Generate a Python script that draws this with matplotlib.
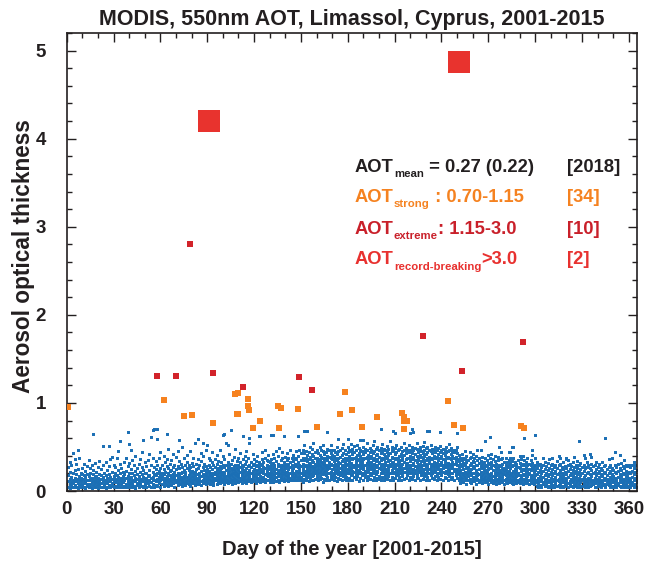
import matplotlib
matplotlib.use("Agg")
import matplotlib.pyplot as plt
from matplotlib.ticker import MultipleLocator

plt.rcParams['font.family'] = ['Liberation Sans', 'DejaVu Sans']
plt.rcParams['font.weight'] = 'bold'

# ---- data -----------------------------------------------------------------
# Background AOT retrievals, one string per day of year (day 1..365), values in hundredths
blue_aot_by_day = [
    "05 11 18 27", "08 14 03 22 33", "10 06 16 29", "43 04 12 20 09", "07 15 24 11 36",
    "13 05 19 31", "46 09 03 14 25", "06 17 12 38", "11 04 21 08 15", "14 07 26 19",
    "09 18 05 31 12", "16 03 10 23", "06 13 28 08 19", "12 04 17 35", "08 21 14 05 26",
    "15 10 03 30", "65 07 12 19 24", "04 09 16 32 11", "13 06 22 17", "10 03 15 27 08",
    "07 19 12 34", "14 05 09 25 18", "51 04 11 16 29", "08 13 06 21", "12 03 18 33 10",
    "05 15 24 09", "51 11 07 19 28", "16 04 13 36", "39 09 14 06 22", "11 17 05 30",
    "06 14 21 10 27", "13 04 18 37", "09 16 07 24 45", "57 05 12 20 31", "15 08 26 11",
    "04 17 10 22 14", "12 06 19 33", "08 15 38 05 23", "67 11 04 17 28", "53 07 14 21 09 32",
    "47 10 05 16 25", "13 08 20 35 04", "06 18 11 29", "15 03 12 23 40", "09 19 07 26 14",
    "12 05 17 31", "08 14 22 10 36", "44 06 13 19 27", "58 11 04 16 24", "07 15 21 09 33",
    "14 05 20 28 11", "09 17 12 35", "06 13 24 18 42", "61 10 04 15 30", "69 08 16 22 12 37",
    "70 05 13 19 27", "11 18 07 25 34", "70 59 14 06 21 29", "09 16 11 23 38", "12 05 19 26 15 44",
    "08 14 21 30 17", "11 06 19 25 40", "15 09 22 13 33", "65 07 17 28 12 36", "10 20 14 26 48 06",
    "13 08 18 31 23", "16 11 24 07 35", "09 19 27 14 42", "12 05 17 22 30 15", "18 10 25 13 39",
    "07 15 21 28 11 45", "58 12 18 09 26 34", "14 08 20 31 16", "10 22 13 27 50 06", "17 09 24 15 37",
    "11 19 07 29 22", "13 26 16 09 33 41", "08 18 12 24 30", "15 21 10 27 45 06", "12 17 23 09 32",
    "09 16 20 13 28 38", "14 07 22 18 55", "11 25 15 08 31", "59 59 10 19 26 14 36", "16 08 21 12 29",
    "07 23 17 11 34 43", "54 13 19 09 27 40", "10 15 24 18 31", "18 08 22 13 28 47", "12 20 16 10 25 52",
    "09 17 23 14 30 38", "13 21 08 27 19 35", "16 11 25 18 33 44", "10 20 14 29 07", "15 22 12 27 36 19",
    "08 18 24 13 31 41", "12 26 16 21 10 34", "17 09 23 28 14 47", "11 19 26 15 33 22", "64 14 22 10 29 18 40",
    "65 12 20 27 16 08 36", "54 17 10 24 30 14", "13 21 09 26 19 52 33", "16 11 23 29 18 42", "69 10 19 26 14 31",
    "12 24 17 08 35 21", "15 20 28 11 25 39", "09 18 23 30 14 48", "13 26 11 21 34 17", "16 10 24 19 29 37",
    "11 22 27 15 33 43", "14 18 09 25 30 21", "62 12 20 28 16 36 24", "17 10 23 31 14 40", "12 19 26 09 34 45",
    "15 22 11 28 18 38", "60 54 13 24 17 30 21", "10 20 27 14 33", "16 23 12 29 19 42", "13 18 25 11 31 36",
    "09 21 28 16 34 24", "15 12 24 30 19 40", "63 11 20 27 14 33", "62 17 10 25 31 22", "13 22 29 15 36 44",
    "16 24 11 20 33 27", "10 19 26 14 38 47", "18 13 23 30 21 35", "12 25 17 28 34 41", "15 21 10 27 33 19",
    "64 13 22 29 17 36 25", "64 10 19 26 15 32 42", "14 23 30 18 27 38", "11 20 25 16 34 45", "17 12 28 22 31 40",
    "13 24 19 30 10 49", "16 21 27 14 35 25", "12 18 29 23 37 44", "62 15 25 11 20 33 28", "18 13 26 22 31 39",
    "14 22 28 17 35 43", "11 19 25 31 16 38", "15 27 20 12 33 46", "18 24 13 29 37 22", "12 21 26 16 34 41",
    "16 28 19 13 31 38", "13 23 30 17 36 45", "62 15 21 27 12 33 40", "17 25 14 30 22 46", "12 20 28 16 35 43",
    "10 18 25 31 22 38 47", "68 14 21 28 35 19 43 52", "68 12 23 30 17 37 45", "68 16 20 27 34 41 24", "11 22 29 36 18 44 31",
    "15 24 19 32 39 27 50", "13 21 28 35 17 42 48", "18 26 12 33 40 23 55", "14 20 27 31 37 44 24", "16 23 30 19 38 46 34",
    "12 25 32 20 36 43 28", "17 22 29 35 14 41 50", "15 27 21 33 39 46 24", "10 19 26 31 38 45 52", "14 23 29 36 20 42 33",
    "18 24 30 13 37 44 27", "67 16 21 28 35 40 48 25", "12 20 26 33 39 46 30", "15 22 31 18 37 43 52", "17 25 29 36 14 41 47",
    "13 21 27 34 19 40 46", "16 24 31 38 22 44 29", "11 20 28 35 42 50 25", "59 15 23 30 37 19 45 33", "18 26 32 14 39 47 22",
    "12 21 28 34 41 25 49", "17 23 30 36 20 43 53", "14 27 33 19 38 46 24", "16 22 29 35 42 12 31", "59 13 25 31 20 37 44 50",
    "15 21 28 34 40 47 24", "18 26 32 13 38 45 53", "12 23 29 36 19 42 48", "16 22 30 37 44 27 51", "14 25 31 18 39 46 34",
    "17 20 28 35 41 52 24", "11 24 30 36 43 21 49", "58 15 22 29 33 40 47 26", "18 27 34 20 38 45 31", "58 13 21 28 36 42 50 25",
    "16 23 30 37 19 44 48", "12 26 32 39 22 46 55", "17 24 29 35 41 15 33", "14 21 27 38 44 49 31", "18 25 33 20 40 47 28",
    "13 22 30 36 43 26 52", "57 16 24 31 38 45 20 35", "12 27 34 19 41 48 29", "15 23 29 36 42 22 50", "17 26 32 39 14 46 33",
    "70 13 21 28 35 43 49 25", "16 24 31 38 20 45 53", "12 22 29 36 42 26 48", "18 25 33 15 40 47 30", "14 23 30 37 44 21 51",
    "17 27 34 19 41 48 24", "13 21 28 35 43 57 31", "16 24 32 39 22 46 50", "68 12 26 33 20 38 45 29", "66 15 22 29 36 42 49 27",
    "18 25 31 38 44 21 52", "13 23 30 37 19 46 34", "16 27 33 40 24 48 29", "12 21 28 35 42 50 25", "17 24 31 39 45 20 36",
    "14 26 33 22 41 47 55", "15 22 29 36 43 49 27", "18 25 32 20 38 46 31", "12 23 30 37 44 52 26", "66 16 27 34 21 40 47 30",
    "70 14 22 29 36 43 50 25", "67 17 25 32 20 39 46 31", "13 21 28 35 42 24 49", "16 26 33 19 40 48 54", "15 23 30 38 44 27 35",
    "12 24 31 22 41 47 50", "18 27 34 20 39 45 29", "14 22 30 36 43 25 51", "17 25 33 40 21 47 56", "13 28 35 19 42 49 31",
    "68 16 23 30 37 44 26 50", "68 12 25 32 39 21 46 35", "18 24 31 38 45 27 52", "15 22 29 36 43 20 48", "14 27 33 40 24 47 31",
    "17 23 30 37 22 44 50", "13 26 32 39 19 46 28", "16 21 28 35 42 49 25", "67 14 24 31 38 20 44 51", "18 25 33 40 23 47 30",
    "12 22 29 36 43 26 48", "16 27 34 20 41 46 31", "15 23 30 37 44 21 50", "13 25 32 39 19 45 28", "17 24 31 38 22 47 53",
    "14 21 29 36 42 26 49", "16 26 33 20 40 45 30", "12 23 31 38 44 25 47", "18 25 32 21 39 46 35", "66 15 22 29 36 24 43 50",
    "12 19 27 34 22 41", "09 17 24 31 38 14", "15 21 28 35 11 42", "10 18 25 32 20 38", "13 22 29 16 36 45",
    "08 19 26 33 14 40", "12 20 27 17 35 24", "14 23 30 10 37 44", "09 18 25 32 21 39", "13 16 28 34 11 42",
    "11 20 26 33 15 38", "08 17 24 30 13 40", "14 21 29 18 35 46", "10 19 25 32 12 37", "13 22 28 16 34 46",
    "09 18 26 31 14 39", "12 20 27 15 33 24", "57 10 17 24 30 13 38", "14 21 28 11 35 22", "08 19 25 32 16 41",
    "61 12 18 26 31 14 37", "10 20 27 15 33 42", "13 17 24 30 09 36", "11 21 28 16 34 40", "08 18 25 31 13 22",
    "14 20 27 11 35 39", "50 09 17 24 30 15 21", "12 22 28 13 36 44", "10 16 25 31 19 38", "13 19 26 08 33 23",
    "11 18 24 30 14 37", "09 20 27 15 33 21", "44 12 17 23 29 10 35", "44 10 19 26 14 32 38", "50 13 21 28 09 34 17",
    "50 08 16 23 30 12 37", "11 19 25 15 33 22", "09 17 24 31 13 28", "12 20 27 10 35 18", "14 18 26 09 32 40",
    "10 16 23 29 13 36", "08 19 25 31 14 40", "60 12 18 24 30 09 35", "11 20 26 15 33 22", "09 17 23 29 12 37",
    "13 19 25 08 31 21", "10 16 24 30 14 35", "46 41 12 18 26 09 32", "08 15 22 28 11 25", "64 11 18 24 13 30 38",
    "06 13 19 26 10 33", "09 15 22 05 29", "11 17 24 07 31", "05 12 20 27 14", "08 16 23 10 30 38",
    "12 18 06 25 33", "07 14 21 28 10", "10 17 04 24 32", "06 13 19 26 11 36", "09 15 22 05 29",
    "11 18 25 07 31 38", "05 13 20 27 14", "08 16 23 10 30", "12 19 06 26 34", "07 14 21 29 11 40",
    "38 09 17 24 05 31", "06 12 20 27 15", "10 18 04 25 33", "08 15 22 28 11", "38 36 06 13 19 26 10",
    "09 16 23 05 30 35", "11 18 25 08 31", "06 14 21 28 12", "10 17 04 24 33", "07 13 20 27 15 39",
    "09 16 23 06 30", "05 12 19 26 11 34", "57 08 15 22 29 13", "10 18 05 25 32", "06 14 21 27 12",
    "41 09 16 23 30 07", "37 11 18 05 26 14", "07 13 20 27 10 33", "09 15 22 04 29", "06 12 19 26 14 42",
    "39 10 17 24 07 31", "08 13 21 28 11", "05 15 22 09 30", "11 18 04 25 33 14", "07 12 20 27 10",
    "09 16 23 06 31 13", "05 13 19 26 10", "10 17 24 07 33", "08 14 21 28 12", "60 06 15 22 04 29",
    "11 18 25 08 14", "07 13 20 27 10 36", "09 16 05 23 30", "06 12 19 26 14 38", "10 17 04 24 11",
    "08 15 22 29 06 44", "05 13 20 27 11", "09 16 23 07 31", "41 06 12 19 26 14", "10 17 04 24 32 13",
    "07 14 21 28 09", "05 12 19 26 11 35", "08 16 23 06 30", "10 13 21 04 28 17", "06 15 22 29 11",
    "09 14 20 05 27 12", "07 16 23 10 30", "05 12 19 26 13 33", "08 15 22 06 29", "10 17 04 24 14",
]

strong_day = [1, 62, 75, 80, 94, 108, 110, 116, 116, 117, 109, 110, 124, 119, 135, 137, 136,
              148, 160, 178, 175, 183, 189, 199, 215, 216, 216, 218, 216, 244, 248, 254, 291, 293]
strong_aot = [0.95, 1.03, 0.85, 0.86, 0.77, 1.10, 1.11, 1.05, 0.97, 0.92, 0.87, 0.87, 0.80, 0.71,
              0.97, 0.94, 0.71, 0.935, 0.73, 1.12, 0.87, 0.92, 0.73, 0.84, 0.88, 0.84, 0.79, 0.79,
              0.70, 1.02, 0.75, 0.71, 0.74, 0.72]

extreme_day = [58, 70, 79, 94, 113, 149, 157, 228, 253, 292]
extreme_aot = [1.31, 1.31, 2.81, 1.34, 1.18, 1.30, 1.15, 1.76, 1.36, 1.69]

record_day = [91, 251]
record_aot = [4.20, 4.875]

x_ticks = list(range(0, 361, 30))
y_ticks = [0, 1, 2, 3, 4, 5]

legend_rows = [
    ("mean", " = 0.27 (0.22)", "[2018]", "#231f20"),
    ("strong", " : 0.70-1.15", "[34]", "#f58220"),
    ("extreme", ": 1.15-3.0", "[10]", "#c9202a"),
    ("record-breaking", ">3.0", "[2]", "#e8312f"),
]

# ---- build blue series ----------------------------------------------------
blue_day, blue_aot = [], []
for i, s in enumerate(blue_aot_by_day):
    for v in s.split():
        blue_day.append(i + 1)
        blue_aot.append(int(v) / 100.0)

# ---- figure ---------------------------------------------------------------
W, H = 647, 563
fig = plt.figure(figsize=(W / 100, H / 100), dpi=100)
ax = fig.add_axes([66.7 / W, 1 - 491 / H, 570 / W, 458 / H])

dark = "#231f20"
blue = ax.scatter(blue_day, blue_aot, s=4.6, marker='s', c="#1b6fb5", linewidths=0, zorder=2)
blue.set_snap(False)
ax.scatter(strong_day, strong_aot, s=14, marker='s', c="#f6821f", linewidths=0, zorder=3)
ax.scatter(extreme_day, extreme_aot, s=24, marker='s', c="#d2232a", linewidths=0, zorder=4)
ax.scatter(record_day, record_aot, s=240, marker='s', c="#e8332e", linewidths=0, zorder=5)

ax.set_xlim(0, 365)
ax.set_ylim(0, 5.2)
ax.set_xticks(x_ticks)
ax.set_yticks(y_ticks)
ax.xaxis.set_minor_locator(MultipleLocator(10))
ax.yaxis.set_minor_locator(MultipleLocator(0.2))
ax.tick_params(which='both', direction='in', top=True, right=True, color=dark, width=1.0)
ax.tick_params(which='major', length=6.5)
ax.tick_params(which='minor', length=3.6)
ax.tick_params(axis='x', which='major', pad=7, labelsize=13.5, labelcolor=dark)
ax.tick_params(axis='y', which='major', pad=15, labelsize=13.5, labelcolor=dark)
for lab in ax.get_xticklabels() + ax.get_yticklabels():
    lab.set_fontweight('bold')
for sp in ax.spines.values():
    sp.set_linewidth(1.2)
    sp.set_color(dark)

# titles / labels
fig.text(351.7 / W, 1 - 25 / H, "MODIS, 550nm AOT, Limassol, Cyprus, 2001-2015",
         ha='center', va='baseline', fontsize=15.5, fontweight='bold', color=dark)
fig.text(351.7 / W, 1 - 555 / H, "Day of the year [2001-2015]",
         ha='center', va='baseline', fontsize=14.5, fontweight='bold', color=dark)
fig.text(24 / W, 1 - 256 / H, "Aerosol optical thickness", rotation=90,
         ha='center', va='center', fontsize=16.3, fontweight='bold', color=dark)

# legend text block
renderer = fig.canvas.get_renderer()
row_base = [171.7, 201.7, 234.0, 264.3]
for (sub, rest, bracket, col), yb in zip(legend_rows, row_base):
    t = fig.text(355 / W, 1 - yb / H, "AOT", fontsize=13.2, fontweight='bold',
                 color=col, va='baseline')
    bb = t.get_window_extent(renderer)
    s = fig.text(bb.x1 / W, 1 - (yb + 5.5) / H, sub, fontsize=8.2, fontweight='bold',
                 color=col, va='baseline')
    bb2 = s.get_window_extent(renderer)
    fig.text(bb2.x1 / W, 1 - yb / H, rest, fontsize=13.2, fontweight='bold',
             color=col, va='baseline')
    fig.text(567 / W, 1 - yb / H, bracket, fontsize=13.2, fontweight='bold',
             color=col, va='baseline')

fig.savefig("out.png", dpi=100)
